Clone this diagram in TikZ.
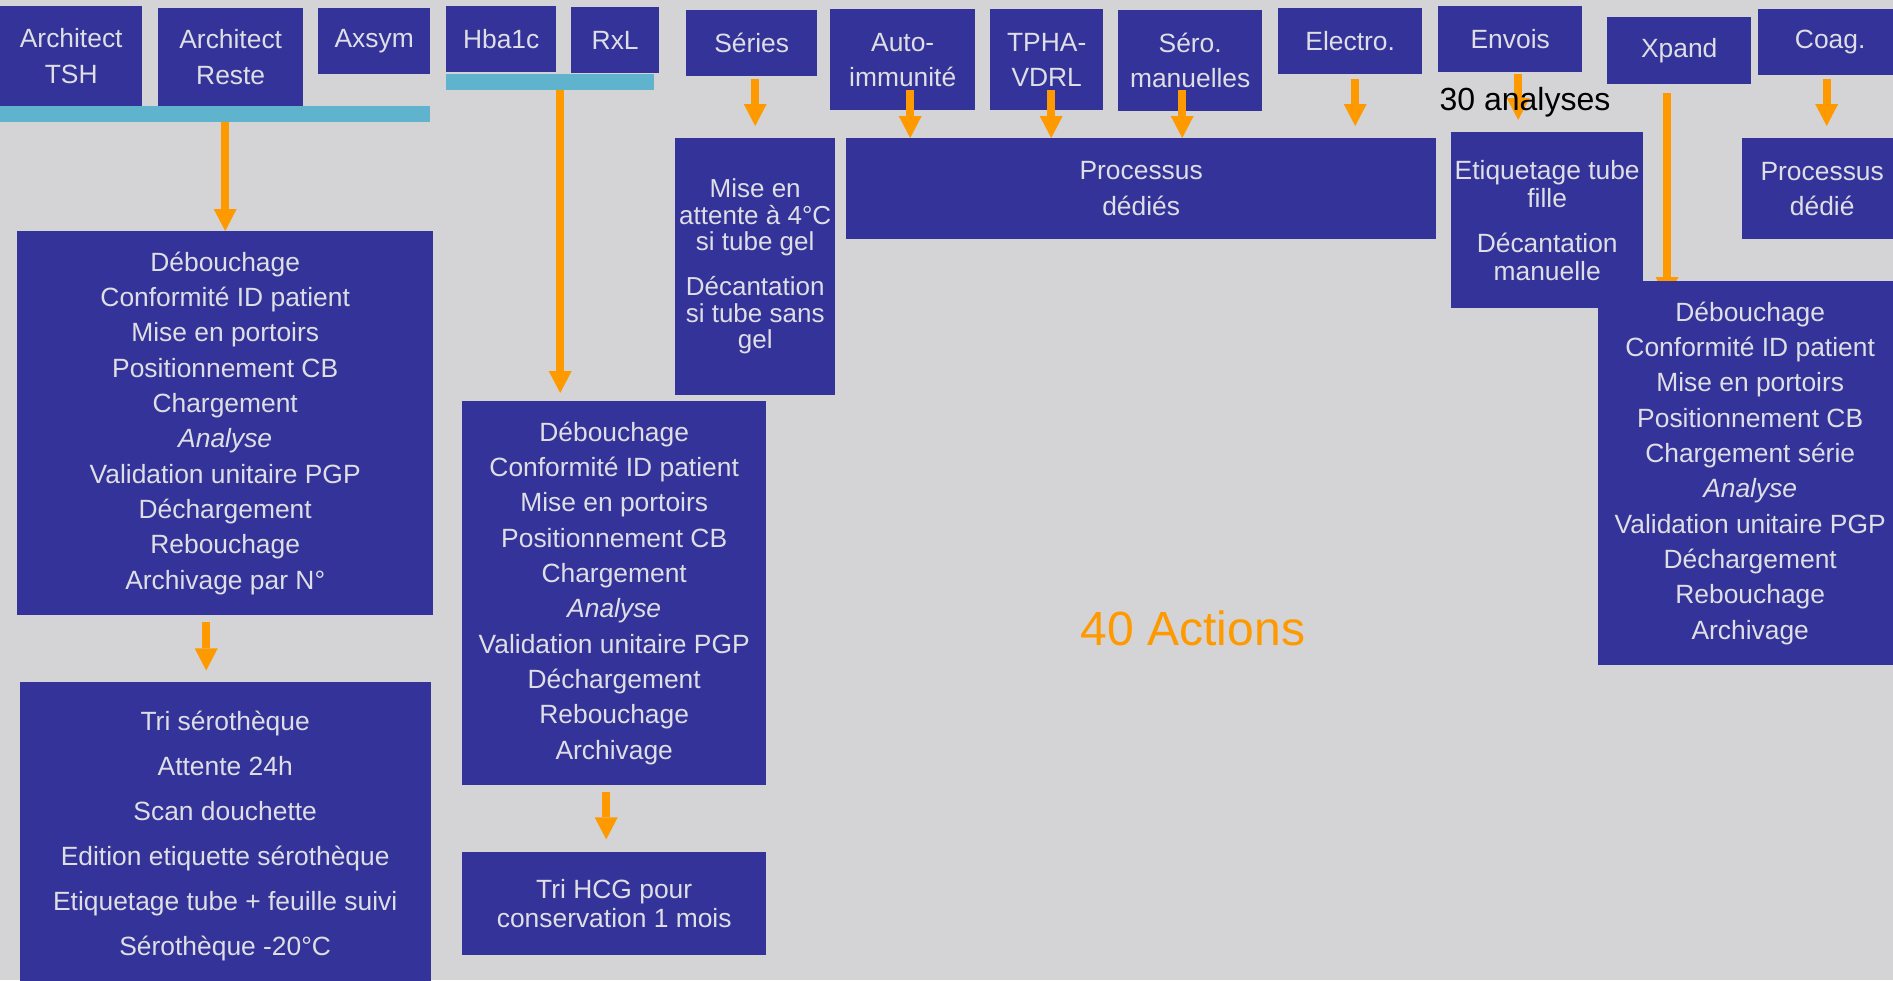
\documentclass[tikz,border=0pt]{standalone}
\usepackage{fontspec}
\setmainfont{Liberation Sans}
\usepackage{tikz}
\usetikzlibrary{arrows.meta,positioning}
\usepackage{xcolor}
\definecolor{boxblue}{RGB}{51,51,153}
\definecolor{boxtext}{RGB}{222,222,228}
\definecolor{bggray}{RGB}{212,212,214}
\definecolor{barcyan}{RGB}{96,179,204}
\definecolor{arroworange}{RGB}{255,153,0}

\begin{document}
\begin{tikzpicture}[
    x=1pt, y=-1pt,
    box/.style={rectangle, fill=boxblue, text=boxtext, anchor=north west, inner sep=0pt, align=center, font=\fontsize{26.4pt}{35.3pt}\selectfont},
    bar/.style={rectangle, fill=barcyan, anchor=north west, inner sep=0pt},
    arrow/.style={-{Triangle[length=22pt, width=23pt, line width=0pt]}, line width=8pt, draw=arroworange}
]
\useasboundingbox (0,0) rectangle (1893,980);
\clip (0,0) rectangle (1893,980);
\fill[bggray] (0,0) rectangle (1893,980);

% Automates / groupes d'analyses
\node[box, minimum width=142pt, minimum height=100pt] (archtsh) at (0,6) {Architect\\TSH};
\node[box, minimum width=145pt, minimum height=98pt] (archreste) at (158,8) {Architect\\Reste};
\node[box, minimum width=112pt, minimum height=66pt] (axsym) at (318,8) {Axsym};
\node[bar, minimum width=430pt, minimum height=16pt] (bar1) at (0,106) {};
\node[box, minimum width=110pt, minimum height=66pt] (hba) at (446,6) {Hba1c};
\node[box, minimum width=88pt, minimum height=66pt] (rxl) at (571,7) {RxL};
\node[bar, minimum width=208pt, minimum height=16pt] (bar2) at (446,74) {};
\node[box, minimum width=131pt, minimum height=66pt] (series) at (686,10) {Séries};
\node[box, minimum width=145pt, minimum height=101pt] (auto) at (830,9) {Auto-\\immunité};
\node[box, minimum width=113pt, minimum height=101pt] (tpha) at (990,9) {TPHA-\\VDRL};
\node[box, minimum width=144pt, minimum height=101pt] (sero) at (1118,10) {Séro.\\manuelles};
\node[box, minimum width=144pt, minimum height=66pt] (electro) at (1278,8) {Electro.};
\node[box, minimum width=144pt, minimum height=66pt] (envois) at (1438,6) {Envois};
\node[box, minimum width=144pt, minimum height=67pt] (xpand) at (1607,17) {Xpand};
\node[box, minimum width=144pt, minimum height=66pt] (coag) at (1758,9) {Coag.};

% Processus
\node[box, minimum width=416pt, minimum height=384pt] (archbox) at (17,231)
    {Débouchage\\Conformité ID patient\\Mise en portoirs\\Positionnement CB\\Chargement\\\textit{Analyse}\\Validation unitaire PGP\\Déchargement\\Rebouchage\\Archivage par N°};
\node[box, below=66pt of archbox, minimum width=411pt, minimum height=309pt, font=\fontsize{26.4pt}{45pt}\selectfont] (serobox)
    {Tri sérothèque\\Attente 24h\\Scan douchette\\Edition etiquette sérothèque\\Etiquetage tube + feuille suivi\\Sérothèque -20°C};
\node[box, minimum width=304pt, minimum height=384pt] (hbabox) at (462,401)
    {Débouchage\\Conformité ID patient\\Mise en portoirs\\Positionnement CB\\Chargement\\\textit{Analyse}\\Validation unitaire PGP\\Déchargement\\Rebouchage\\Archivage};
\node[box, below=66pt of hbabox, minimum width=304pt, minimum height=103pt, font=\fontsize{26.4pt}{29pt}\selectfont] (hcgbox)
    {Tri HCG pour\\conservation 1 mois};
\node[box, minimum width=160pt, minimum height=257pt, font=\fontsize{26pt}{26.5pt}\selectfont] (attbox) at (675,138)
    {Mise en\\attente à 4°C\\si tube gel\\[18.5pt]Décantation\\si tube sans\\gel};
\node[box, minimum width=590pt, minimum height=101pt, font=\fontsize{26.4pt}{36pt}\selectfont] (dedbox) at (846,138) {Processus\\dédiés};
\node[box, minimum width=192pt, minimum height=176pt, font=\fontsize{26.4pt}{28pt}\selectfont] (etibox) at (1451,132)
    {Etiquetage tube\\fille\\[17pt]Décantation\\manuelle};
\node[box, minimum width=160pt, minimum height=101pt] (coagbox) at (1742,138) {Processus\\dédié};

% Fleches
\draw[arrow] (archbox.north |- bar1.south) -- (archbox.north);
\draw[arrow] ([xshift=-19pt,yshift=-7pt]archbox.south) -- ([xshift=-19pt,yshift=11pt]serobox.north);
\draw[arrow] ([xshift=10pt]bar2.south) -- ([xshift=10pt,yshift=8pt]bar2.south |- hbabox.north);
\draw[arrow] ([xshift=-8pt,yshift=-7pt]hbabox.south) -- ([xshift=-8pt,yshift=12pt]hcgbox.north);
\draw[arrow] ([yshift=-3pt]attbox.north |- series.south) -- ([yshift=12pt]attbox.north);
\draw[arrow] ([xshift=7.5pt,yshift=20pt]auto.south) -- ([xshift=7.5pt]auto.south |- dedbox.north);
\draw[arrow] ([xshift=4.5pt,yshift=20pt]tpha.south) -- ([xshift=4.5pt]tpha.south |- dedbox.north);
\draw[arrow] ([xshift=-8pt,yshift=21pt]sero.south) -- ([xshift=-8pt]sero.south |- dedbox.north);
\draw[arrow] ([xshift=5pt,yshift=-5pt]electro.south) -- ([xshift=5pt,yshift=12pt]electro.south |- dedbox.north);
\draw[arrow] ([xshift=8pt,yshift=-2pt]envois.south) -- ([xshift=8pt,yshift=12pt]envois.south |- etibox.north);
\draw[arrow] ([xshift=-3.5pt,yshift=-4pt]coag.south) -- ([xshift=-3.5pt,yshift=12pt]coag.south |- coagbox.north);
\coordinate (xpin) at (1667,299);
\draw[arrow] ([yshift=-9pt]xpin |- xpand.south) -- (xpin);

\node[box, minimum width=304pt, minimum height=384pt] (xpbox) at (1598,281)
    {Débouchage\\Conformité ID patient\\Mise en portoirs\\Positionnement CB\\Chargement série\\\textit{Analyse}\\Validation unitaire PGP\\Déchargement\\Rebouchage\\Archivage};

% Annotations
\node[font=\fontsize{32pt}{38pt}\selectfont] (nbanalyses) at (1525,102) {30 analyses};
\node[font=\fontsize{48pt}{56pt}\selectfont, text=arroworange] (nbactions) at (1193,628) {40 Actions};
\end{tikzpicture}
\end{document}
